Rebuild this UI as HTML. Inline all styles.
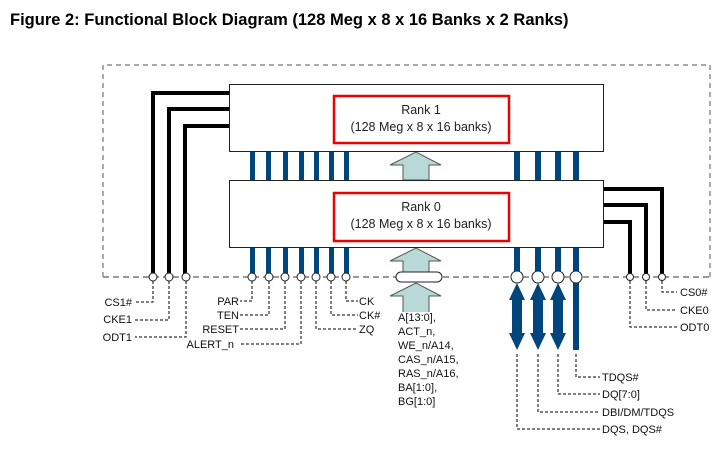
<!DOCTYPE html>
<html><head><meta charset="utf-8"><style>
html,body{margin:0;padding:0;background:#fff;width:724px;height:456px;overflow:hidden}
svg{display:block}
text{font-family:"Liberation Sans",sans-serif}
</style></head><body>
<svg width="724" height="456" viewBox="0 0 724 456" xmlns="http://www.w3.org/2000/svg">
<text x="10" y="25" font-size="16.5" font-weight="bold" fill="#000">Figure 2: Functional Block Diagram (128 Meg x 8 x 16 Banks x 2 Ranks)</text>
<path d="M103 277 V65 H710 V277" fill="none" stroke="#555" stroke-width="1" stroke-dasharray="5,4"/>
<line x1="103" y1="277" x2="710" y2="277" stroke="#999" stroke-width="2" stroke-dasharray="6,4"/>
<g fill="#00457c">
<rect x="250" y="151" width="5" height="29"/><rect x="266" y="151" width="5" height="29"/><rect x="283" y="151" width="5" height="29"/><rect x="299" y="151" width="5" height="29"/><rect x="314" y="151" width="5" height="29"/><rect x="329" y="151" width="5" height="29"/><rect x="344" y="151" width="5" height="29"/>
<rect x="250" y="247" width="5" height="30"/><rect x="266" y="247" width="5" height="30"/><rect x="283" y="247" width="5" height="30"/><rect x="299" y="247" width="5" height="30"/><rect x="314" y="247" width="5" height="30"/><rect x="329" y="247" width="5" height="30"/><rect x="344" y="247" width="5" height="30"/>
<rect x="514" y="151" width="6" height="29"/><rect x="535" y="151" width="6" height="29"/><rect x="555" y="151" width="6" height="29"/><rect x="573" y="151" width="6" height="29"/>
<rect x="514" y="247" width="6" height="30"/><rect x="535" y="247" width="6" height="30"/><rect x="555" y="247" width="6" height="30"/><rect x="573" y="247" width="6" height="30"/>
<rect x="573" y="277" width="6" height="73"/>
</g>
<g fill="#00457c">
<path d="M517 283 L525 300 L522 300 L522 333 L525 333 L517 350 L509 333 L512 333 L512 300 L509 300 Z"/>
<path d="M538 283 L546 300 L543 300 L543 333 L546 333 L538 350 L530 333 L533 333 L533 300 L530 300 Z"/>
<path d="M558 283 L566 300 L563 300 L563 333 L566 333 L558 350 L550 333 L553 333 L553 300 L550 300 Z"/>
</g>
<g fill="none" stroke="#000" stroke-width="4">
<path d="M229 93 H153 V277"/><path d="M229 109 H169 V277"/><path d="M229 126 H185 V277"/>
<path d="M604 189 H662 V277"/><path d="M604 205 H646 V277"/><path d="M604 222 H630 V277"/>
</g>
<g fill="#b9d9d9" stroke="#555" stroke-width="1">
<path d="M403 180 V165 H390 L416 152 L441 165 H429 V180 Z"/>
<path d="M403 272 V261 H390 L416 248 L441 261 H429 V272 Z"/>
<path d="M403 312 V296 H390 L416 283 L441 296 H429 V312" />
</g>
<rect x="396" y="272" width="46" height="10" rx="5" fill="#fff" stroke="#222" stroke-width="1"/>
<rect x="229.5" y="84.5" width="374" height="67" fill="#fff" stroke="#222"/>
<rect x="229.5" y="180.5" width="374" height="67" fill="#fff" stroke="#222"/>
<rect x="334" y="96" width="175" height="47" fill="none" stroke="#e00" stroke-width="2.5"/>
<rect x="334" y="193" width="175" height="48" fill="none" stroke="#e00" stroke-width="2.5"/>
<g font-size="12.5" fill="#222" text-anchor="middle">
<text x="421" y="114">Rank 1</text><text x="421" y="131">(128 Meg x 8 x 16 banks)</text>
<text x="421" y="211">Rank 0</text><text x="421" y="228">(128 Meg x 8 x 16 banks)</text>
</g>
<g fill="#fff" stroke="#222" stroke-width="1">
<circle cx="153" cy="277" r="4"/><circle cx="169" cy="277" r="4"/><circle cx="186" cy="277" r="4"/>
<circle cx="252" cy="277" r="4"/><circle cx="269" cy="277" r="4"/><circle cx="285" cy="277" r="4"/><circle cx="301" cy="277" r="4"/><circle cx="316" cy="277" r="4"/><circle cx="331" cy="277" r="4"/><circle cx="346" cy="277" r="4"/>
<circle cx="517" cy="277" r="6"/><circle cx="538" cy="277" r="6"/><circle cx="558" cy="277" r="6"/><circle cx="576" cy="277" r="6"/>
<circle cx="630" cy="277" r="3.5"/><circle cx="646" cy="277" r="3.5"/><circle cx="662" cy="277" r="3.5"/>
</g>
<g fill="none" stroke="#000" stroke-width="1" stroke-dasharray="3,2">
<path d="M153 281 V302 H135"/><path d="M169 281 V320 H135"/><path d="M186 281 V337 H135"/>
<path d="M252 281 V301 H240"/><path d="M269 281 V315 H240"/><path d="M285 281 V329 H240"/><path d="M301 281 V344 H240"/>
<path d="M346 281 V301 H358"/><path d="M331 281 V315 H358"/><path d="M316 281 V329 H358"/>
<path d="M662 281 V292 H677"/><path d="M646 281 V310 H677"/><path d="M630 281 V327 H677"/>
<path d="M576 354 V377 H600"/><path d="M558 354 V394 H600"/><path d="M538 354 V412 H600"/><path d="M517 354 V429 H600"/>
</g>
<g font-size="11" fill="#111">
<g text-anchor="end">
<text x="132" y="306">CS1#</text><text x="132" y="323">CKE1</text><text x="132" y="341">ODT1</text>
<text x="239" y="305">PAR</text><text x="239" y="319">TEN</text><text x="239" y="333">RESET</text><text x="234" y="348">ALERT_n</text>
</g>
<text x="359" y="305">CK</text><text x="359" y="319">CK#</text><text x="359" y="333">ZQ</text>
<text x="398" y="321">A[13:0],</text><text x="398" y="335">ACT_n,</text><text x="398" y="349">WE_n/A14,</text><text x="398" y="363">CAS_n/A15,</text><text x="398" y="377">RAS_n/A16,</text><text x="398" y="391">BA[1:0],</text><text x="398" y="405">BG[1:0]</text>
<text x="680" y="296">CS0#</text><text x="680" y="314">CKE0</text><text x="680" y="331">ODT0</text>
<text x="602" y="381">TDQS#</text><text x="602" y="398">DQ[7:0]</text><text x="602" y="416">DBI/DM/TDQS</text><text x="602" y="433">DQS, DQS#</text>
</g>
</svg>
</body></html>
